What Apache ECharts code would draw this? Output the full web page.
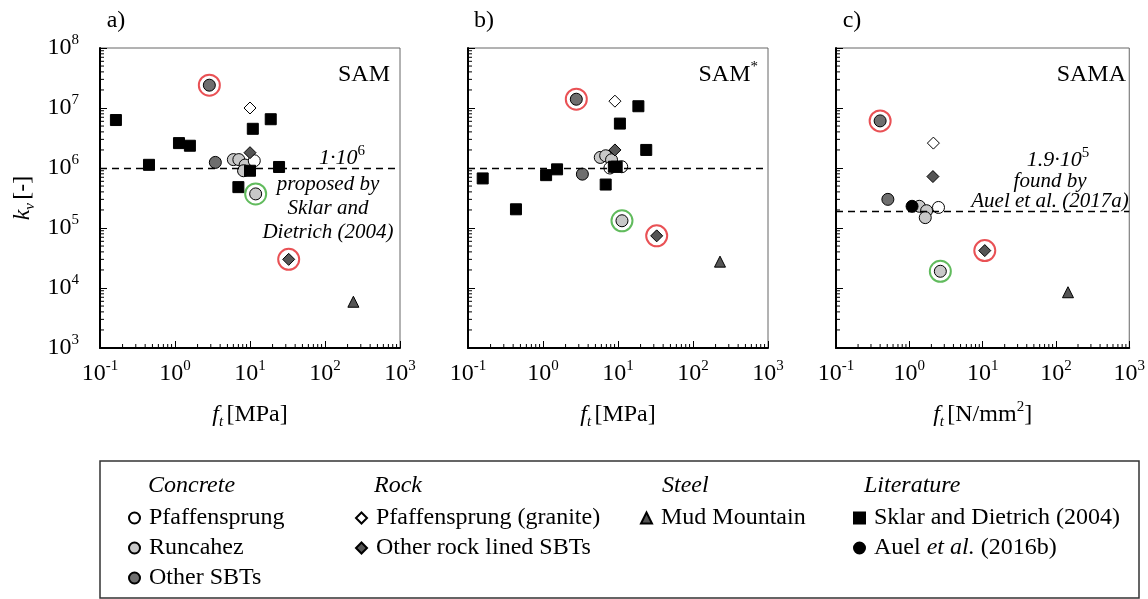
<!DOCTYPE html>
<html>
<head>
<meta charset="utf-8">
<title>k_v vs f_t</title>
<script src="https://cdn.jsdelivr.net/npm/echarts@6/dist/echarts.min.js"></script>
<style>
  html, body { margin: 0; padding: 0; background: #fff; }
  #chart { width: 1148px; height: 599px; }
</style>
</head>
<body>
<div id="chart"></div>
<script>
// a) SAM  [f_t, k_v]
var samPfaffensprung = [[11.4, 1.32e6]];
var samRuncahez = [[6.0, 1.38e6], [7.1, 1.38e6], [8.6, 1.12e6], [8.2, 0.9e6], [11.9, 3.7e5]];
var samOtherSBT = [[2.87, 2.4e7], [3.45, 1.24e6]];
var samGranite = [[10, 1.0e7]];
var samOtherRock = [[10, 1.8e6], [32.8, 3.0e4]];
var samMudMountain = [[239, 5.9e3]];
var samSklar = [[0.163, 6.3e6], [0.45, 1.13e6], [1.13, 2.6e6], [1.58, 2.35e6], [10.9, 4.5e6],
                [18.9, 6.5e6], [24.4, 1.04e6], [10, 0.9e6], [7.0, 4.8e5]];

// b) SAM*
var samsPfaffensprung = [[7.8, 1.0e6], [11.2, 1.05e6]];
var samsRuncahez = [[5.8, 1.5e6], [6.85, 1.6e6], [8.2, 1.37e6], [11.3, 1.32e5]];
var samsOtherSBT = [[2.78, 1.4e7], [3.35, 7.9e5]];
var samsGranite = [[9.1, 1.3e7]];
var samsOtherRock = [[9.1, 2.0e6], [32.8, 7.4e4]];
var samsMudMountain = [[229, 2.75e4]];
var samsSklar = [[0.157, 6.7e5], [0.436, 2.05e5], [1.1, 7.6e5], [1.54, 9.5e5], [6.85, 5.3e5],
                 [8.8, 1.05e6], [9.6, 1.05e6], [10.6, 5.5e6], [18.7, 1.07e7], [23.8, 2.0e6]];

// c) SAMA
var samaPfaffensprung = [[2.5, 2.2e5]];
var samaRuncahez = [[1.37, 2.3e5], [1.72, 1.94e5], [1.65, 1.49e5], [2.65, 1.9e4]];
var samaOtherSBT = [[0.40, 6.1e6], [0.51, 3.0e5]];
var samaGranite = [[2.13, 2.6e6]];
var samaOtherRock = [[2.1, 7.2e5], [10.7, 4.2e4]];
var samaMudMountain = [[146, 8.5e3]];
var samaAuel = [[1.09, 2.3e5]];

// circled points
var redRings = [[samOtherSBT[0], samOtherRock[1]], [samsOtherSBT[0], samsOtherRock[1]], [samaOtherSBT[0], samaOtherRock[1]]];
var greenRings = [[samRuncahez[4]], [samsRuncahez[3]], [samaRuncahez[3]]];

var refLines = [1e6, 1e6, 1.9e5];
var panelNames = ['{b|SAM}', '{b|SAM}{s|*}', '{b|SAMA}'];
var panelLetters = ['a)', 'b)', 'c)'];
var xNames = ['{i|f}{sub|t} {b|[MPa]}', '{i|f}{sub|t} {b|[MPa]}', '{i|f}{sub|t} {b|[N/mm}{s|2}{b|]}'];
var xMin = 0.1, xMax = 1000, yMin = 1e3, yMax = 1e8;

var font = 'Liberation Serif';
var gridLeft = [100, 468, 836];

var chart = echarts.init(document.getElementById('chart'));

var supRich = {
    b: { fontFamily: font, fontSize: 24, lineHeight: 30, color: '#000' },
    s: { fontFamily: font, fontSize: 15, lineHeight: 15, verticalAlign: 'top', color: '#000' },
    i: { fontFamily: font, fontSize: 24, lineHeight: 30, fontStyle: 'italic', color: '#000' },
    ia: { fontFamily: font, fontSize: 22, lineHeight: 28, fontStyle: 'italic', color: '#000' },
    sub: { fontFamily: font, fontSize: 15, lineHeight: 15, verticalAlign: 'bottom', fontStyle: 'italic', color: '#000' }
};

function powLabel(v) {
    return '{b|10}{s|' + Math.round(Math.log10(v)) + '}';
}

// minor ticks 2..9 per decade
var xMinor = [], yMinor = [];
for (var e = -1; e < 3; e++) for (var m = 2; m < 10; m++) xMinor.push([m * Math.pow(10, e), yMin]);
for (var e2 = 3; e2 < 8; e2++) for (var m2 = 2; m2 < 10; m2++) yMinor.push([xMin, m2 * Math.pow(10, e2)]);

function pts(name, data, gi, symbol, size, color, z) {
    return {
        name: name, type: 'scatter', xAxisIndex: gi, yAxisIndex: gi, data: data,
        symbol: symbol, symbolSize: size, z: z,
        itemStyle: { color: color, borderColor: '#000', borderWidth: 1, opacity: 1 },
        emphasis: { disabled: true }
    };
}

function tickSeries(data, gi, dir) {
    return {
        type: 'custom', xAxisIndex: gi, yAxisIndex: gi, data: data, silent: true, clip: false, z: 1,
        renderItem: function (params, api) {
            var p = api.coord([api.value(0), api.value(1)]);
            var shape = dir === 'x'
                ? { x1: p[0], y1: p[1], x2: p[0], y2: p[1] - 4 }
                : { x1: p[0], y1: p[1], x2: p[0] + 4, y2: p[1] };
            return { type: 'line', shape: shape, style: { stroke: '#000', lineWidth: 1 } };
        }
    };
}

var sets = [
    [samRuncahez, samOtherSBT, samPfaffensprung, samGranite, samOtherRock, samSklar, samMudMountain, null],
    [samsRuncahez, samsOtherSBT, samsPfaffensprung, samsGranite, samsOtherRock, samsSklar, samsMudMountain, null],
    [samaRuncahez, samaOtherSBT, samaPfaffensprung, samaGranite, samaOtherRock, null, samaMudMountain, samaAuel]
];

var series = [];
sets.forEach(function (s, gi) {
    series.push(pts('Runcahez', s[0], gi, 'circle', 12, '#c8c8c8', 3));
    series.push(pts('Other SBTs', s[1], gi, 'circle', 12, '#6e6e6e', 3));
    series.push(pts('Pfaffensprung', s[2], gi, 'circle', 12, '#ffffff', 4));
    series.push(pts('Pfaffensprung (granite)', s[3], gi, 'diamond', 12, '#ffffff', 4));
    series.push(pts('Other rock lined SBTs', s[4], gi, 'diamond', 12, '#555555', 4));
    if (s[5]) series.push(pts('Sklar and Dietrich (2004)', s[5], gi, 'rect', 11, '#000000', 5));
    series.push(pts('Mud Mountain', s[6], gi, 'triangle', 11, '#555555', 4));
    if (s[7]) series.push(pts('Auel et al. (2016b)', s[7], gi, 'circle', 12, '#000000', 3));
    series.push({
        type: 'scatter', xAxisIndex: gi, yAxisIndex: gi, data: redRings[gi], symbol: 'circle', symbolSize: 21,
        silent: true, z: 6, itemStyle: { color: 'rgba(0,0,0,0)', borderColor: '#e3262b', borderWidth: 2 },
        markLine: {
            silent: true, symbol: 'none', label: { show: false },
            lineStyle: { type: [7, 5], color: '#000', width: 1.3 },
            data: [{ yAxis: refLines[gi] }]
        }
    });
    series.push({
        type: 'scatter', xAxisIndex: gi, yAxisIndex: gi, data: greenRings[gi], symbol: 'circle', symbolSize: 21,
        silent: true, z: 6, itemStyle: { color: 'rgba(0,0,0,0)', borderColor: '#3aaa35', borderWidth: 2 }
    });
    series.push(tickSeries(xMinor, gi, 'x'));
    series.push(tickSeries(yMinor, gi, 'y'));
});

var legendText = {
    fontFamily: font, fontSize: 24, color: '#000', lineHeight: 24, padding: [0, 0, 0, 4],
    rich: { i: { fontFamily: font, fontSize: 24, fontStyle: 'italic', color: '#000' } }
};
function legendBox(names, left) {
    return {
        data: names, left: left, top: 501, orient: 'vertical', itemWidth: 11, itemHeight: 11, itemGap: 6,
        selectedMode: false, textStyle: legendText,
        formatter: function (n) { return n === 'Auel et al. (2016b)' ? 'Auel {i|et al.} (2016b)' : n; }
    };
}

function text(x, y, str, opts) {
    return {
        type: 'text', x: x, y: y, silent: true,
        style: Object.assign({
            text: str, fontFamily: font, fontSize: 24, fill: '#000',
            align: 'center', verticalAlign: 'middle', rich: supRich
        }, opts || {})
    };
}

var graphics = [
    { type: 'rect', shape: { x: 100, y: 461, width: 1039, height: 137 }, style: { fill: 'none', stroke: '#333', lineWidth: 1.5 }, silent: true },
    text(148, 486, 'Concrete', { align: 'left', fontStyle: 'italic' }),
    text(374, 486, 'Rock', { align: 'left', fontStyle: 'italic' }),
    text(662, 486, 'Steel', { align: 'left', fontStyle: 'italic' }),
    text(864, 486, 'Literature', { align: 'left', fontStyle: 'italic' }),
    text(342, 158, '{ia|1·10}{s|6}', {}),
    text(328, 184, 'proposed by', { fontStyle: 'italic', fontSize: 21 }),
    text(328, 208, 'Sklar and', { fontStyle: 'italic', fontSize: 21 }),
    text(328, 232, 'Dietrich (2004)', { fontStyle: 'italic', fontSize: 21 }),
    text(1058, 160, '{ia|1.9·10}{s|5}', {}),
    text(1050, 181, 'found by', { fontStyle: 'italic', fontSize: 21 }),
    text(1050, 201, 'Auel et al. (2017a)', { fontStyle: 'italic', fontSize: 21 })
];
[0, 1, 2].forEach(function (i) {
    graphics.push(text(gridLeft[i] + 16, 21, panelLetters[i], {}));
    graphics.push(text(gridLeft[i] + 290, 75, panelNames[i], { align: 'right' }));
});

var option = {
    backgroundColor: '#fff',
    animation: false,
    grid: [0, 1, 2].map(function (i) {
        return { left: gridLeft[i], top: 48, width: 300, height: 300, show: true, borderColor: '#666', borderWidth: 1 };
    }),
    xAxis: [0, 1, 2].map(function (i) {
        return {
            type: 'log', logBase: 10, min: xMin, max: xMax, gridIndex: i,
            name: xNames[i],
            nameLocation: 'middle', nameGap: 52,
            nameTextStyle: { rich: supRich },
            axisLine: { show: true, onZero: false, lineStyle: { color: '#000', width: 2 } },
            axisTick: { show: true, inside: true, length: 7, lineStyle: { color: '#000', width: 1 } },
            axisLabel: { margin: 11, formatter: powLabel, rich: supRich },
            splitLine: { show: false }
        };
    }),
    yAxis: [0, 1, 2].map(function (i) {
        return {
            type: 'log', logBase: 10, min: yMin, max: yMax, gridIndex: i,
            name: i === 0 ? '{i|k}{sub|v} {b|[-]}' : '',
            nameLocation: 'middle', nameRotate: 90, nameGap: 62,
            nameTextStyle: { rich: supRich },
            axisLine: { show: true, onZero: false, lineStyle: { color: '#000', width: 2 } },
            axisTick: { show: true, inside: true, length: 7, lineStyle: { color: '#000', width: 1 } },
            axisLabel: { show: i === 0, margin: 21, formatter: powLabel, rich: supRich },
            splitLine: { show: false }
        };
    }),
    legend: [
        legendBox(['Pfaffensprung', 'Runcahez', 'Other SBTs'], 123),
        legendBox(['Pfaffensprung (granite)', 'Other rock lined SBTs'], 350),
        legendBox(['Mud Mountain'], 635),
        legendBox(['Sklar and Dietrich (2004)', 'Auel et al. (2016b)'], 848)
    ],
    graphic: graphics,
    series: series
};

chart.setOption(option);
</script>
</body>
</html>
